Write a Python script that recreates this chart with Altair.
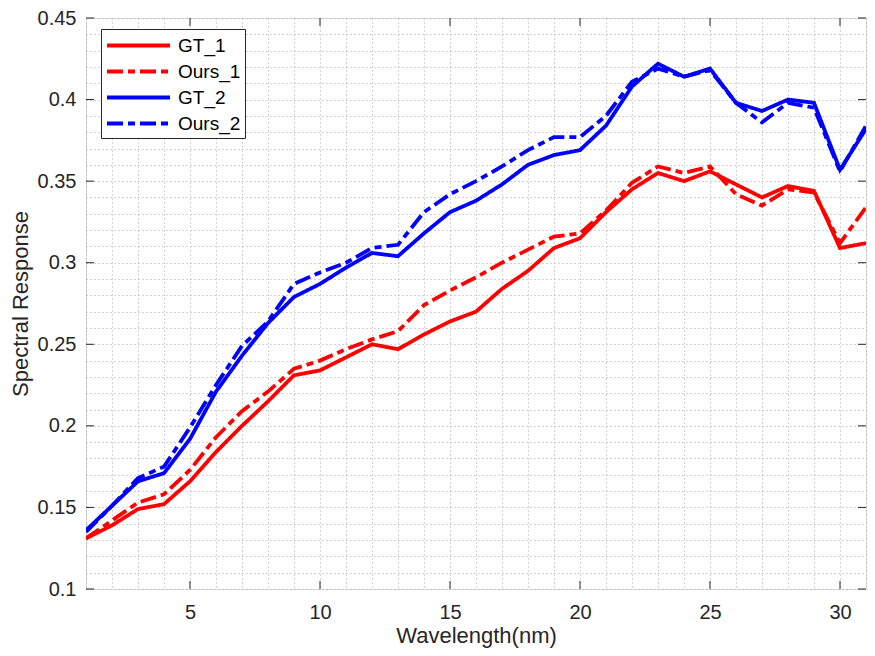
import altair as alt
import pandas as pd

# ---------------- data ----------------
wavelength = list(range(1, 32))

gt_1 = [0.131, 0.139, 0.149, 0.152, 0.166, 0.184, 0.200, 0.215, 0.231, 0.234,
        0.242, 0.250, 0.247, 0.256, 0.264, 0.270, 0.284, 0.295, 0.309, 0.315,
        0.331, 0.345, 0.355, 0.350, 0.356, 0.348, 0.340, 0.347, 0.344, 0.309,
        0.312]
ours_1 = [0.131, 0.142, 0.153, 0.158, 0.173, 0.193, 0.209, 0.221, 0.235, 0.240,
          0.247, 0.253, 0.258, 0.274, 0.283, 0.291, 0.300, 0.308, 0.316, 0.318,
          0.332, 0.349, 0.359, 0.355, 0.359, 0.342, 0.335, 0.345, 0.343, 0.312,
          0.334]
gt_2 = [0.136, 0.151, 0.166, 0.171, 0.192, 0.221, 0.243, 0.263, 0.279, 0.287,
        0.297, 0.306, 0.304, 0.318, 0.331, 0.338, 0.348, 0.360, 0.366, 0.369,
        0.384, 0.408, 0.422, 0.414, 0.419, 0.398, 0.393, 0.400, 0.398, 0.357,
        0.382]
ours_2 = [0.135, 0.151, 0.168, 0.175, 0.199, 0.225, 0.249, 0.264, 0.287, 0.294,
          0.300, 0.309, 0.311, 0.331, 0.342, 0.350, 0.359, 0.369, 0.377, 0.377,
          0.390, 0.411, 0.419, 0.414, 0.418, 0.398, 0.386, 0.398, 0.395, 0.356,
          0.384]

series_names = ["GT_1", "Ours_1", "GT_2", "Ours_2"]
series_colors = ["#ff0000", "#ff0000", "#0000ff", "#0000ff"]
series_dash = [[1, 0], [16, 5, 7, 5], [1, 0], [16, 5, 7, 5]]

x_major_ticks = [5, 10, 15, 20, 25, 30]
y_major_ticks = [0.10, 0.15, 0.20, 0.25, 0.30, 0.35, 0.40, 0.45]
x_grid = list(range(1, 32))
y_grid = [round(0.10 + 0.01 * i, 2) for i in range(36)]

rows = []
for name, vals in zip(series_names, [gt_1, ours_1, gt_2, ours_2]):
    for w, v in zip(wavelength, vals):
        rows.append({"Wavelength": w, "Response": v, "Series": name})
df = pd.DataFrame(rows)

# ---------------- chart ----------------
W, H = 780, 571
TXT = "#262626"
FONT = "Liberation Sans"
GRID = "#a8a8a8"

xscale = alt.Scale(domain=[1, 31], nice=False, zero=False)
yscale = alt.Scale(domain=[0.1, 0.45], nice=False, zero=False)

x_axis = alt.Axis(
    values=x_grid,
    labelExpr="datum.value % 5 == 0 ? datum.label : ''",
    title="Wavelength(nm)",
    ticks=False, domain=False, grid=True,
    gridDash=[1, 3], gridColor=GRID, gridWidth=1,
    labelFontSize=20, titleFontSize=22, labelPadding=13, titlePadding=3,
    labelOverlap=False, labelFlush=False,
    labelFont=FONT, titleFont=FONT, labelColor=TXT, titleColor=TXT,
    titleFontWeight="normal",
)
y_axis = alt.Axis(
    values=y_grid,
    labelExpr="round(datum.value*100) % 5 == 0 ? format(datum.value, '.2~f') : ''",
    title="Spectral Response",
    ticks=False, domain=False, grid=True,
    gridDash=[1, 3], gridColor=GRID, gridWidth=1,
    labelFontSize=20, titleFontSize=22, labelPadding=10, titlePadding=5,
    labelOverlap=False, labelFlush=False,
    labelFont=FONT, titleFont=FONT, labelColor=TXT, titleColor=TXT,
    titleFontWeight="normal",
)

legend = alt.Legend(
    title=None, orient="none", legendX=15, legendY=11,
    symbolType="M-3,0H3", symbolSize=441, symbolStrokeWidth=3.8,
    symbolOffset=21, labelOffset=27, rowPadding=3,
    labelFontSize=19, labelFont=FONT, labelColor="#000000",
    padding=4, strokeColor=TXT, fillColor="white", cornerRadius=0,
)

color_enc = alt.Color("Series:N", scale=alt.Scale(domain=series_names, range=series_colors),
                      legend=legend)
dash_enc = alt.StrokeDash("Series:N", scale=alt.Scale(domain=series_names, range=series_dash),
                          legend=legend)

xt = pd.DataFrame({"Wavelength": x_major_ticks})
yt = pd.DataFrame({"Response": y_major_ticks})

X_ENC = alt.X("Wavelength:Q", scale=xscale, axis=x_axis)
Y_ENC = alt.Y("Response:Q", scale=yscale, axis=y_axis)

tick_b = alt.Chart(xt).mark_rule(color=TXT, strokeWidth=1).encode(
    x=X_ENC, y=alt.value(H), y2=alt.value(H - 8))
tick_t = alt.Chart(xt).mark_rule(color=TXT, strokeWidth=1).encode(
    x=X_ENC, y=alt.value(0), y2=alt.value(8))
tick_l = alt.Chart(yt).mark_rule(color=TXT, strokeWidth=1).encode(
    y=Y_ENC, x=alt.value(0), x2=alt.value(8))
tick_r = alt.Chart(yt).mark_rule(color=TXT, strokeWidth=1).encode(
    y=Y_ENC, x=alt.value(W), x2=alt.value(W - 8))

lines = alt.Chart(df).mark_line(strokeWidth=3.8, clip=True, strokeCap="butt").encode(
    x=X_ENC,
    y=Y_ENC,
    color=color_enc,
    strokeDash=dash_enc,
)

chart = alt.layer(lines, tick_b, tick_t, tick_l, tick_r).properties(
    width=W, height=H,
    padding={"left": 78, "top": 10, "right": 1, "bottom": 64},
    autosize=alt.AutoSizeParams(type="none"),
).configure_view(
    stroke=TXT, strokeWidth=1
).configure(background="white")

chart.save("out.html", embed_options={"renderer": "svg", "actions": False})
